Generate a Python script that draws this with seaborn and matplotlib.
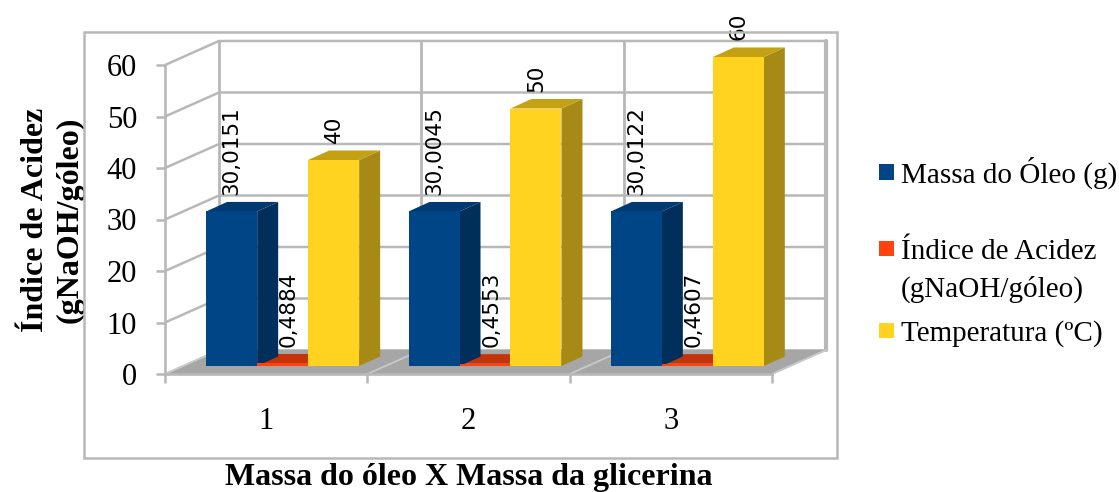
import matplotlib
matplotlib.use("Agg")
import matplotlib.pyplot as plt
from matplotlib.patches import Patch, Rectangle
import pandas as pd
import seaborn as sns

categories = ["1", "2", "3"]
massa_oleo = [30.0151, 30.0045, 30.0122]
indice_acidez = [0.4884, 0.4553, 0.4607]
temperatura = [40, 50, 60]
label_massa = ["30,0151", "30,0045", "30,0122"]
label_indice = ["0,4884", "0,4553", "0,4607"]
label_temp = ["40", "50", "60"]
series_names = ["Massa do Óleo (g)", "Índice de Acidez (gNaOH/góleo)", "Temperatura (ºC)"]
y_ticks = [0, 10, 20, 30, 40, 50, 60]

FRONT = ["#004586", "#ff420e", "#ffd320"]
SIDE = ["#002f5b", "#c5330b", "#a68a15"]
TOP = ["#003a70", "#c5330b", "#c4a113"]
GRID = "#b8b8b8"
W, H = 1119, 492

sns.set_theme(style="white")
plt.rcParams["font.family"] = ["Liberation Serif", "DejaVu Sans"]

df = pd.DataFrame({
    "cat": categories * 3,
    "val": massa_oleo + indice_acidez + temperatura,
    "serie": sum(([s] * 3 for s in series_names), []),
})

fig = plt.figure(figsize=(W / 100, H / 100), dpi=100, facecolor="white")


def rect(left, top, right, bottom):
    return [left / W, 1 - bottom / H, (right - left) / W, (bottom - top) / H]


fig.add_artist(Rectangle((84 / W, 1 - 458 / H), (837 - 84) / W, (458 - 32) / H,
                         transform=fig.transFigure, fill=False, ec=GRID, lw=1.8))

# Front plane of the chart box: carries the axes, ticks, labels and the walls.
ax = fig.add_axes(rect(165, 65, 772, 374))
ax.set_xlim(-0.5, 2.5)
ax.set_ylim(0, 60)
ax.patch.set_alpha(0)
PX, PY = 3 / 607, 60 / 309
dX, dY = 54 * PX, 24 * PY

boundaries = [-0.5, 0.5, 1.5, 2.5]
ax.fill([-0.5, -0.5 + dX, 2.5 + dX, 2.5], [0, dY, dY, 0], color="#a6a6a6", zorder=1, clip_on=False)
for v in y_ticks[1:]:
    ax.plot([-0.5, -0.5 + dX, 2.5 + dX], [v, v + dY, v + dY], color=GRID, lw=1.8, clip_on=False, zorder=1)
for b in boundaries:
    ax.plot([b + dX, b + dX], [dY, 60 + dY], color=GRID, lw=3 if b == 2.5 else 2, clip_on=False, zorder=1)
    ax.plot([b, b + dX], [0, dY], color="#c9c9c9", lw=1.3, clip_on=False, zorder=1)

for s in ["top", "right"]:
    ax.spines[s].set_visible(False)
for s in ["left", "bottom"]:
    ax.spines[s].set_color(GRID)
    ax.spines[s].set_linewidth(1.9)
    ax.spines[s].set_zorder(2)
ax.set_yticks(y_ticks)
ax.set_xticks(range(3))
ax.set_xticklabels(categories)
ax.set_xticks(boundaries, minor=True)
ax.tick_params(axis="y", length=6.5, width=1.8, color=GRID, labelsize=22, pad=13.5, left=True, labelcolor="black")
ax.tick_params(axis="x", which="major", length=0, labelsize=22, pad=24, labelcolor="black")
ax.tick_params(axis="x", which="minor", length=6.5, width=1.8, color=GRID, bottom=True)
ax.set_xlabel("Massa do óleo X Massa da glicerina", fontsize=23, fontweight="bold", color="black", labelpad=19.5)
ax.set_ylabel("Índice de Acidez\n(gNaOH/góleo)", fontsize=23, fontweight="bold", color="black",
              linespacing=1.23)
ax.yaxis.set_label_coords(-0.133, 0.5)

# Bars live on a second plane, pushed into the depth of the box.
bx = fig.add_axes(rect(181.5, 57, 788.5, 366), sharex=None)
bx.patch.set_alpha(0)
sns.barplot(data=df, x="cat", y="val", hue="serie", hue_order=series_names, order=categories,
            palette=FRONT, width=0.756, gap=0, dodge=True, saturation=1, legend=False, ax=bx)
bx.set_xlim(-0.5, 2.5)
bx.set_ylim(0, 60)
bx.axis("off")

bdX, bdY = 21 * PX, 9.5 * PY
labels = [label_massa, label_indice, label_temp]
label_shift = [0, 4.5, 0]
for k, cont in enumerate(bx.containers):
    for bar, text in zip(cont, labels[k]):
        x0, w, h = bar.get_x(), bar.get_width(), bar.get_height()
        x1 = x0 + w
        z = 1 if k == 1 else 2
        bar.set_zorder(3)
        bar.set_linewidth(0)
        bx.fill([x1, x1 + bdX, x1 + bdX, x1], [0, bdY, h + bdY, h], color=SIDE[k], lw=0, zorder=z, clip_on=False)
        bx.fill([x0, x0 + bdX, x1 + bdX, x1], [h, h + bdY, h + bdY, h], color=TOP[k], lw=0, zorder=z, clip_on=False)
        bx.annotate(text, (x0 + w / 2, h), xytext=(label_shift[k], 12), textcoords="offset points",
                    rotation=90, ha="center", va="bottom", fontsize=15.5, family="DejaVu Sans",
                    color="black", annotation_clip=False, zorder=5)


def entry(rows, y_center):
    fig.legend(handles=rows, loc="center left", bbox_to_anchor=(879 / W, 1 - y_center / H),
               frameon=False, fontsize=21, handlelength=0.52, handleheight=0.43, handletextpad=0.24,
               labelspacing=0.36, borderpad=0, borderaxespad=0, labelcolor="black")


entry([Patch(color=FRONT[0], lw=0, label="Massa do Óleo (g)")], 172.5)
entry([Patch(color=FRONT[1], lw=0, label="Índice de Acidez"),
       Patch(color="none", lw=0, label="(gNaOH/góleo)")], 271)
entry([Patch(color=FRONT[2], lw=0, label="Temperatura (ºC)")], 334)

fig.savefig("out.png", dpi=100, facecolor="white")
